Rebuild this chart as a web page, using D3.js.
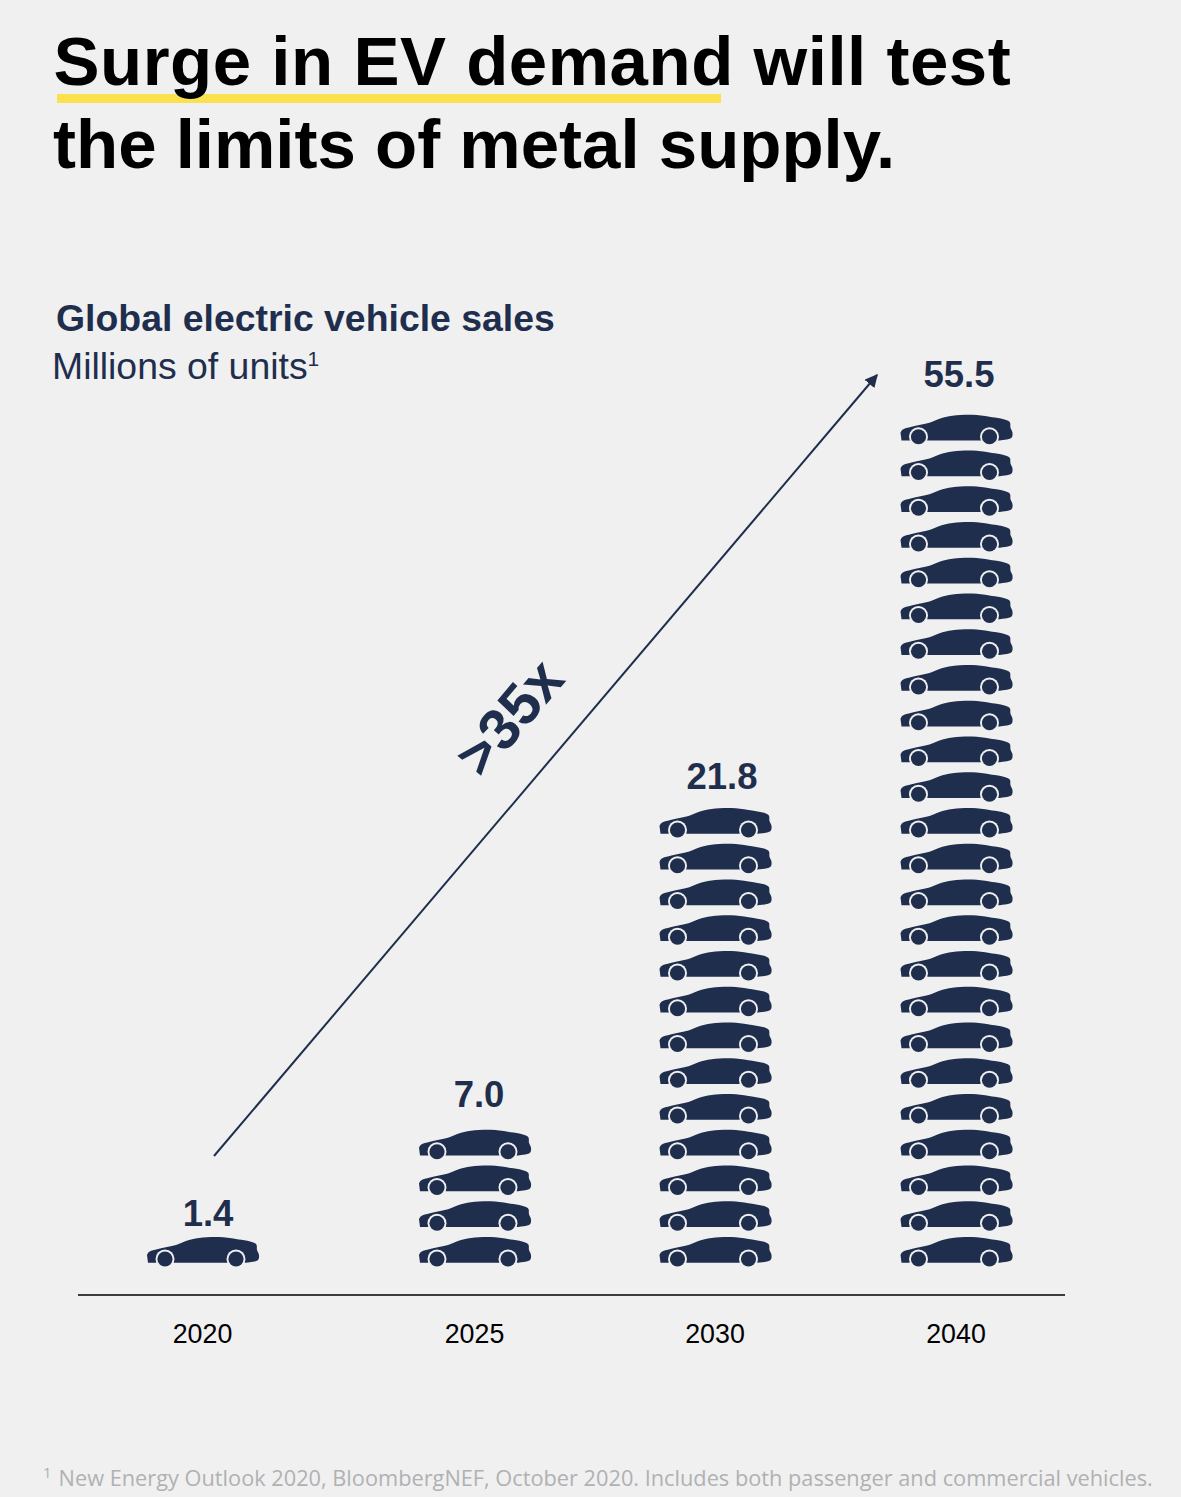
<!DOCTYPE html>
<html>
<head>
<meta charset="utf-8">
<script src="https://cdn.jsdelivr.net/npm/d3@7"></script>
<style>
  html, body { margin: 0; padding: 0; background: #f0f0f0; }
  svg { display: block; }
  text { font-family: "Liberation Sans", Arial, sans-serif; }
  .title { font-size: 69px; font-weight: 700; fill: #000; }
  .sub { font-size: 37.4px; fill: #1f2e4d; }
  .value { font-size: 36.5px; font-weight: 700; fill: #1f2e4d; text-anchor: middle; }
  .foot { font-family: "Open Sans", sans-serif; font-size: 21.75px; fill: #b0b1b3; }
  .x-axis text { font-size: 26.8px; fill: #000; }
</style>
</head>
<body>
<svg id="chart" width="1181" height="1497"></svg>
<script>
const years = ["2020", "2025", "2030", "2040"];
const sales = [1.4, 7.0, 21.8, 55.5];
const carCounts = [1, 4, 13, 24];
const titleLines = ["Surge in EV demand will test", "the limits of metal supply."];
const footnote = "New Energy Outlook 2020, BloombergNEF, October 2020. Includes both passenger and commercial vehicles.";

const navy = "#1f2e4d";
const svg = d3.select("#chart");

// Spacing of the columns is not even in the original, so ordinal not point scale
const x = d3.scaleOrdinal().domain(years).range([203, 475, 715.5, 956.5]);
// value labels sit off-centre and at a different gap above each stack
const labelShift = d3.scaleOrdinal().domain(years).range([5, 4, 6.5, 2.5]);
const labelGap = d3.scaleOrdinal().domain(years).range([11, 23, 19, 28]);
// y is in "cars stacked"
const y = d3.scaleLinear().domain([0, 24]).range([1267, 409]);

// Title
svg.append("rect").attr("x", 57).attr("y", 94).attr("width", 664).attr("height", 9).attr("fill", "#fbe050");
svg.selectAll(".title").data(titleLines).enter().append("text")
  .attr("class", "title")
  .attr("x", (d, i) => i ? 53 : 53.5)
  .attr("y", (d, i) => 85 + i * 83)
  .attr("letter-spacing", (d, i) => i ? 0 : 0.52)
  .text(d => d);

// Subtitle
svg.append("text").attr("class", "sub").attr("x", 56).attr("y", 331)
  .attr("font-weight", 700).text("Global electric vehicle sales");
const units = svg.append("text").attr("class", "sub").attr("x", 52).attr("y", 379).text("Millions of units");
units.append("tspan").attr("font-size", 21).attr("dy", -13).text("1");

// Car glyph, drawn facing left from its own top left corner
const defs = svg.append("defs");
const body = d3.line().curve(d3.curveCatmullRom.alpha(0.5))([
  [0, 18], [2, 15], [11, 12], [29, 8], [39, 4], [52, 1], [72, 0],
  [89, 2], [109, 7], [110, 13], [112, 18], [111, 23], [99, 25.7]
]) + "L1,25.7Z";
const car = defs.append("g").attr("id", "car");
car.append("path").attr("d", body).attr("fill", navy);
[18, 89].forEach(cx => {
  car.append("circle").attr("cx", cx).attr("cy", 22).attr("r", 9.5).attr("fill", "#f0f0f0");
  car.append("circle").attr("cx", cx).attr("cy", 22).attr("r", 7.6).attr("fill", navy);
});

// One column of stacked cars per year
const columns = svg.selectAll(".column").data(years).enter().append("g").attr("class", "column");
columns.selectAll("use")
  .data((d, i) => d3.range(carCounts[i]).map(k => ({ year: d, k })))
  .enter().append("use")
  .attr("href", "#car")
  .attr("x", d => x(d.year) - 56)
  .attr("y", d => y(d.k) - 30);

columns.append("text")
  .attr("class", "value")
  .attr("x", d => x(d) + labelShift(d))
  .attr("y", (d, i) => y(carCounts[i] - 1) - 30 - labelGap(d))
  .text((d, i) => sales[i].toFixed(1));

// Axis
svg.append("line").attr("x1", 78).attr("x2", 1065).attr("y1", 1295).attr("y2", 1295)
  .attr("stroke", "#000").attr("stroke-width", 1.5);
const axis = svg.append("g").attr("class", "x-axis").attr("transform", "translate(0,1295)")
  .call(d3.axisBottom(x).tickSize(0).tickPadding(29).offset(-0.5));
axis.select(".domain").remove();
axis.attr("font-family", null).attr("font-size", null);

// Growth arrow
defs.append("marker").attr("id", "head").attr("viewBox", "0 0 10 10")
  .attr("refX", 9).attr("refY", 5).attr("markerUnits", "userSpaceOnUse")
  .attr("markerWidth", 13).attr("markerHeight", 13).attr("orient", "auto")
  .append("path").attr("d", "M0,0L10,5L0,10Z").attr("fill", navy);
svg.append("line").attr("x1", 214).attr("y1", 1156).attr("x2", 877).attr("y2", 375)
  .attr("stroke", navy).attr("stroke-width", 2).attr("marker-end", "url(#head)");
svg.append("text").attr("transform", "translate(509,717) rotate(-49.7)")
  .attr("text-anchor", "middle").attr("dy", "0.35em")
  .attr("font-size", 58).attr("font-weight", 700).attr("fill", navy).text(">35x");

// Footnote
const foot = svg.append("text").attr("class", "foot").attr("x", 43).attr("y", 1486);
foot.append("tspan").attr("font-size", 15).attr("dy", -8).text("1");
foot.append("tspan").attr("dx", 7).attr("dy", 8).text(footnote);
</script>
</body>
</html>
